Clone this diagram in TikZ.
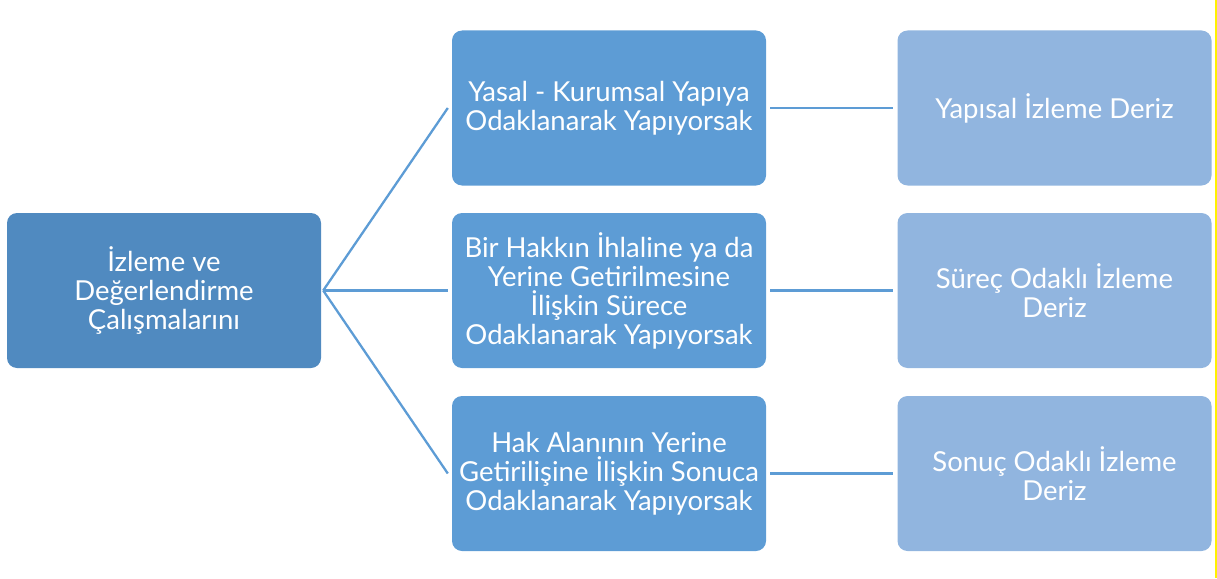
\documentclass[tikz,border=0pt]{standalone}
\usepackage{fontspec}
\setmainfont{Lato}
\definecolor{rootc}{RGB}{80,138,192}
\definecolor{midc}{RGB}{93,156,213}
\definecolor{rightc}{RGB}{145,181,223}
\definecolor{linec}{RGB}{93,156,213}
\tikzset{
  box/.style={rounded corners=10pt, minimum width=314pt, minimum height=155pt, text=white, align=center, font=\fontsize{27.5}{29}\selectfont, inner sep=0pt},
  rootbox/.style={box, fill=rootc},
  midbox/.style={box, fill=midc},
  rightbox/.style={box, fill=rightc},
  conn/.style={draw=linec, line width=2.3pt}
}
\begin{document}
\begin{tikzpicture}[x=1pt,y=-1pt]
\useasboundingbox (0,0) rectangle (1217,578);
\node[rootbox] (root) at (164,290.5) {İzleme ve\\Değerlendirme\\Çalışmalarını};
\node[midbox] (m1) at (609,108) {Yasal - Kurumsal Yapıya\\Odaklanarak Yapıyorsak};
\node[midbox] (m2) at (609,290.5) {Bir Hakkın İhlaline ya da\\Yerine Getirilmesine\\İlişkin Sürece\\Odaklanarak Yapıyorsak};
\node[midbox] (m3) at (609,473.5) {Hak Alanının Yerine\\Getirilişine İlişkin Sonuca\\Odaklanarak Yapıyorsak};
\node[rightbox] (r1) at (1054.5,108) {Yapısal İzleme Deriz};
\node[rightbox] (r2) at (1054.5,290.5) {Süreç Odaklı İzleme\\Deriz};
\node[rightbox] (r3) at (1054.5,473.5) {Sonuç Odaklı İzleme\\Deriz};
\coordinate (hub) at ([xshift=2pt]root.east);
\draw[conn] (hub) -- ([xshift=-4pt]m1.west);
\draw[conn] (hub) -- ([xshift=-4pt]m2.west);
\draw[conn] (hub) -- ([xshift=-4pt]m3.west);
\draw[conn] ([xshift=4pt]m1.east) -- ([xshift=-4pt]r1.west);
\draw[conn] ([xshift=4pt]m2.east) -- ([xshift=-4pt]r2.west);
\draw[conn] ([xshift=4pt]m3.east) -- ([xshift=-4pt]r3.west);
\coordinate (yt) at (1215.5,0);
\coordinate (yb) at (1215.5,578);
\draw[yellow, line width=2pt] (yt) -- (yb);
\end{tikzpicture}
\end{document}
